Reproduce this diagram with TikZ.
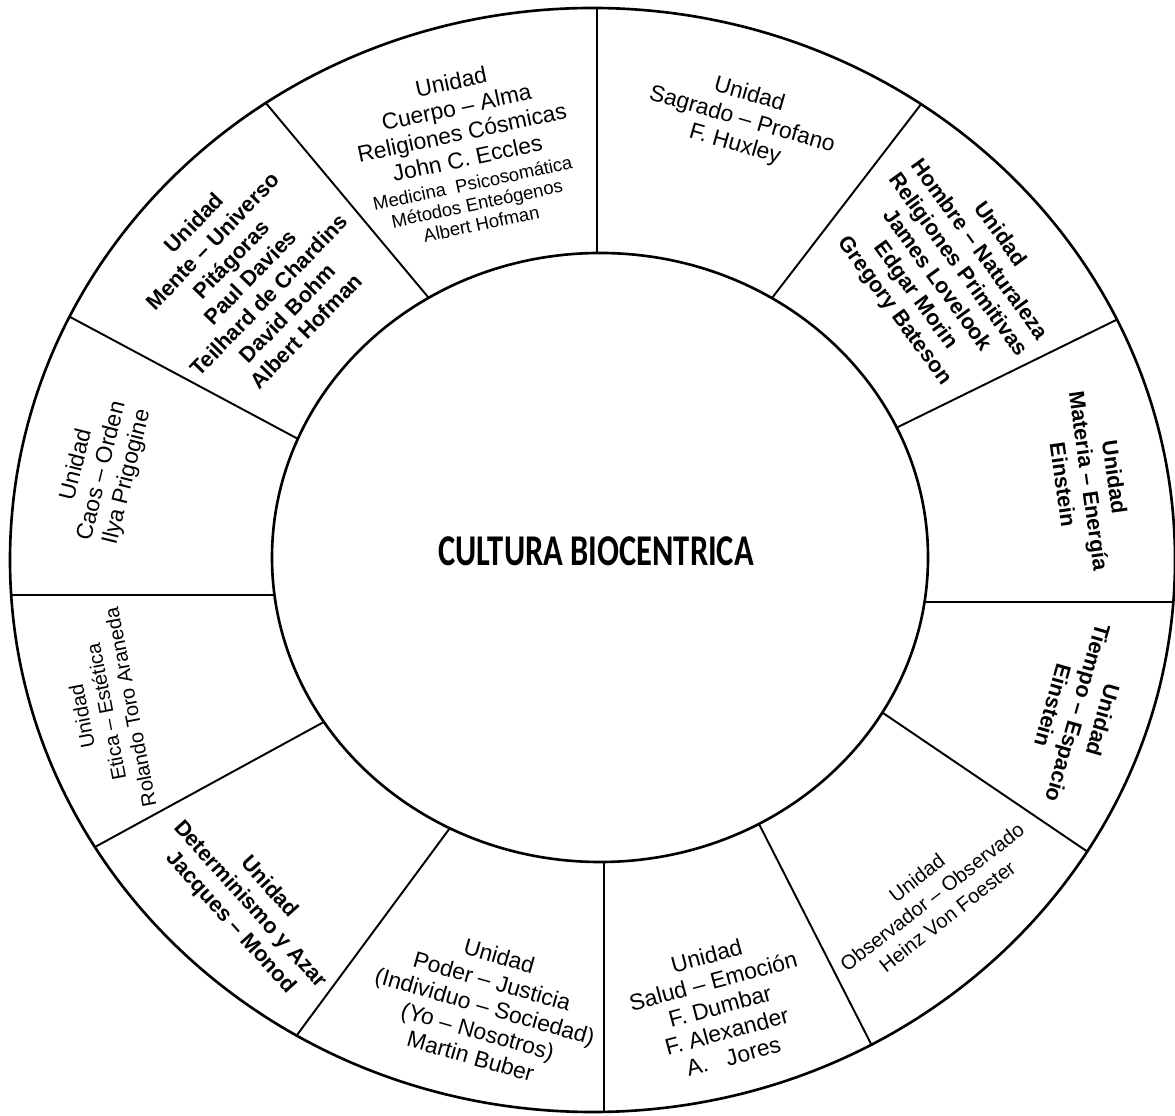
\documentclass[tikz,border=0pt]{standalone}
\usepackage{fontspec}
\setmainfont{Liberation Sans}
\newfontfamily\titlefont{Carlito}

\begin{document}
\begin{tikzpicture}
[x=0.02cm,y=0.02cm,ring/.style={line width=1.5pt},spoke/.style={line width=1.1pt,shorten >=-10pt,shorten <=-10pt},
unit/.style={align=center,inner sep=0pt,font=\fontsize{13}{14.8}\selectfont},
unitbold/.style={unit,font=\fontsize{12.4}{14.8}\selectfont\bfseries},
unitsmall/.style={unit,font=\fontsize{11.5}{14}\selectfont},]

%Page size
\useasboundingbox (0,0) rectangle (1175,1115);

%Ring centres and radii
\coordinate (C) at (592.5,555);
\coordinate (D) at (600,557.5);
\def\ax{582.5}
\def\ay{552}
\def\bx{328}
\def\by{304.5}

%Spoke ends on the inner ring
\coordinate (I1) at (597,862);
\coordinate (I2) at (772,817);
\coordinate (I3) at (898,688);
\coordinate (I4) at (928,513);
\coordinate (I5) at (883,402);
\coordinate (I6) at (760,289);
\coordinate (I7) at (604,253);
\coordinate (I8) at (447,283);
\coordinate (I9) at (322,392);
\coordinate (I10) at (275,520);
\coordinate (I11) at (300,675);
\coordinate (I12) at (428,818);

%Spoke ends on the outer ring
\coordinate (O1) at (597,1107);
\coordinate (O2) at (922,1012);
\coordinate (O3) at (1110,792);
\coordinate (O4) at (1175,513);
\coordinate (O5) at (1085,265);
\coordinate (O6) at (868,77);
\coordinate (O7) at (604,0);
\coordinate (O8) at (297,80);
\coordinate (O9) at (95,268);
\coordinate (O10) at (12,520);
\coordinate (O11) at (72,797);
\coordinate (O12) at (270,1007);

%Drawing the spokes
\begin{scope}
\clip (C) ellipse [x radius=\ax, y radius=\ay];
\foreach \k in {1,...,12}
  \draw[spoke] (I\k) -- (O\k);
\end{scope}

%Drawing the rings
\draw[ring] (C) ellipse [x radius=\ax, y radius=\ay];
\draw[ring,fill=white] (D) ellipse [x radius=\bx, y radius=\by];

%Centre
\node (title) at (596,564)[font=\titlefont\fontsize{25}{30}\selectfont\bfseries,xscale=0.74] {CULTURA BIOCENTRICA};

%Sectors, clockwise from the top
\node (cuerpo) at (466,963)[unit,rotate=12] {Unidad\\ Cuerpo – Alma\\ Religiones Cósmicas\\ John C. Eccles\\[-1pt]
{\fontsize{10.5}{12}\selectfont Medicina\ \ Psicosomática}\\[-3pt] {\fontsize{10.5}{12}\selectfont Métodos Enteógenos}\\[-3pt] {\fontsize{10.5}{12}\selectfont Albert Hofman}};
\node (sagrado) at (742,995)[unit,rotate=-16] {Unidad\\ Sagrado – Profano\\ F. Huxley};
\node (hombre) at (947,842)[unitbold,rotate=-54] {Unidad\\ Hombre – Naturaleza\\ Religiones Primitivas\\ James Lovelook\\ Edgar Morin\\ Gregory Bateson};
\node (materia) at (1089,634)[unitbold,rotate=-82] {Unidad\\ Materia – Energía\\ Einstein};
\node (tiempo) at (1078,402)[unitbold,rotate=-106] {Unidad\\ Tiempo – Espacio\\ Einstein};
\node (observador) at (932,218)[unitsmall,rotate=38] {Unidad\\ Observador – Observado\\ Heinz Von Foester};
\node (salud) at (720,109)[unit,rotate=15] {Unidad\\ Salud – Emoción\\ F. Dumbar\\ F. Alexander\\ A.\ \ \ Jores};
\node (poder) at (485,109)[unit,rotate=-16] {Unidad\\ Poder – Justicia\\ (Individuo – Sociedad)\\ (Yo – Nosotros)\\ Martin Buber};
\node (azar) at (250,210)[unitbold,rotate=-48] {Unidad\\ Determinismo y Azar\\ Jacques – Monod};
\node (etica) at (106,403)[unitsmall,rotate=101] {Unidad\\ Etica – Estética\\ Rolando Toro Araneda};
\node (caos) at (102,644)[unit,rotate=76] {Unidad\\ Caos – Orden\\ Ilya Prigogine};
\node (mente) at (250,838)[unitbold,rotate=46] {Unidad\\ Mente – Universo\\ Pitágoras\\ Paul Davies\\ Teilhard de Chardins\\ David Bohm\\ Albert Hofman};

\end{tikzpicture}
\end{document}
